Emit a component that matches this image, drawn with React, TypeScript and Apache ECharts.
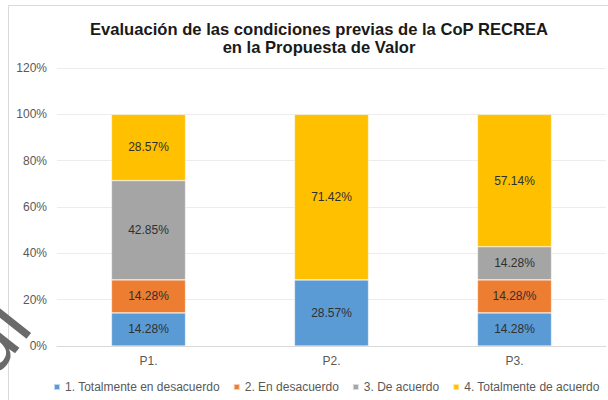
import React, { useEffect, useRef } from "react";
import * as echarts from "echarts";

const categories = ["P1.", "P2.", "P3."];
const seriesNames = [
  "1. Totalmente en desacuerdo",
  "2. En desacuerdo",
  "3. De acuerdo",
  "4. Totalmente de acuerdo",
];
const totalDesacuerdo = [14.28, 28.57, 14.28];
const enDesacuerdo = [14.28, 0, 14.28];
const deAcuerdo = [42.85, 0, 14.28];
const totalAcuerdo = [28.57, 71.42, 57.14];
const enDesacuerdoLabels = ["14.28%", "", "14.28/%"];
const yTicks = [0, 20, 40, 60, 80, 100, 120];
const colors = ["#5B9BD5", "#ED7D31", "#A5A5A5", "#FFC000"];

export default function App() {
  const ref = useRef<HTMLDivElement>(null);
  useEffect(() => {
    document.body.style.margin = "0";
    if (!ref.current) return;
    const chart = echarts.init(ref.current, null, { renderer: "svg" });
    const font = "Liberation Sans, Arial, sans-serif";
    const values = [totalDesacuerdo, enDesacuerdo, deAcuerdo, totalAcuerdo];
    chart.setOption({
      animation: false,
      textStyle: { fontFamily: font },
      title: {
        text: "Evaluación de las condiciones previas de la CoP RECREA\nen la Propuesta de Valor",
        left: 314,
        textAlign: "center",
        top: 15,
        textStyle: {
          fontSize: 16.6,
          fontWeight: "bold",
          color: "#1a1a1a",
          lineHeight: 18.5,
          fontFamily: font,
        },
      },
      legend: {
        left: 53,
        top: 381,
        width: 555,
        padding: 0,
        itemWidth: 6,
        itemHeight: 6,
        itemGap: 13,
        icon: "rect",
        textStyle: { fontSize: 12, color: "#595959", fontFamily: font },
        data: seriesNames,
      },
      graphic: [
        {
          type: "rect",
          shape: { x: 8.5, y: 5.5, width: 640, height: 420 },
          style: { fill: "none", stroke: "#d9d9d9", lineWidth: 1 },
          silent: true,
        },
        {
          type: "text",
          x: 4,
          y: 388,
          rotation: 0.9,
          style: {
            text: "di",
            fontSize: 84,
            fontFamily: font,
            fill: "#6a6a6a",
            verticalAlign: "bottom",
            align: "left",
          },
          silent: true,
          z: 100,
        },
      ],
      grid: { left: 57, right: 2, top: 68, bottom: 54 },
      xAxis: {
        type: "category",
        data: categories,
        axisTick: { show: false },
        axisLine: { lineStyle: { color: "#d9d9d9" } },
        axisLabel: { fontSize: 12, color: "#595959", margin: 9 },
      },
      yAxis: {
        type: "value",
        min: yTicks[0],
        max: yTicks[yTicks.length - 1],
        interval: 20,
        axisLabel: {
          fontSize: 12,
          color: "#595959",
          margin: 10,
          formatter: (v: number) => v + "%",
        },
        splitLine: { lineStyle: { color: "#ececec" } },
        axisLine: { show: false },
        axisTick: { show: false },
      },
      series: seriesNames.map((name, i) => ({
        name,
        type: "bar",
        stack: "total",
        barWidth: "40.5%",
        data: values[i],
        itemStyle: { color: colors[i], borderColor: "rgba(255,255,255,0.6)", borderWidth: 0.6 },
        label: {
          show: true,
          position: "inside",
          fontSize: 12,
          color: "#303030",
          fontFamily: font,
          formatter: (p: any) => {
            if (!p.value) return "";
            if (i === 1) return enDesacuerdoLabels[p.dataIndex];
            return p.value.toFixed(2) + "%";
          },
        },
      })),
    });
    return () => chart.dispose();
  }, []);
  return <div ref={ref} style={{ width: 608, height: 400 }} />;
}
